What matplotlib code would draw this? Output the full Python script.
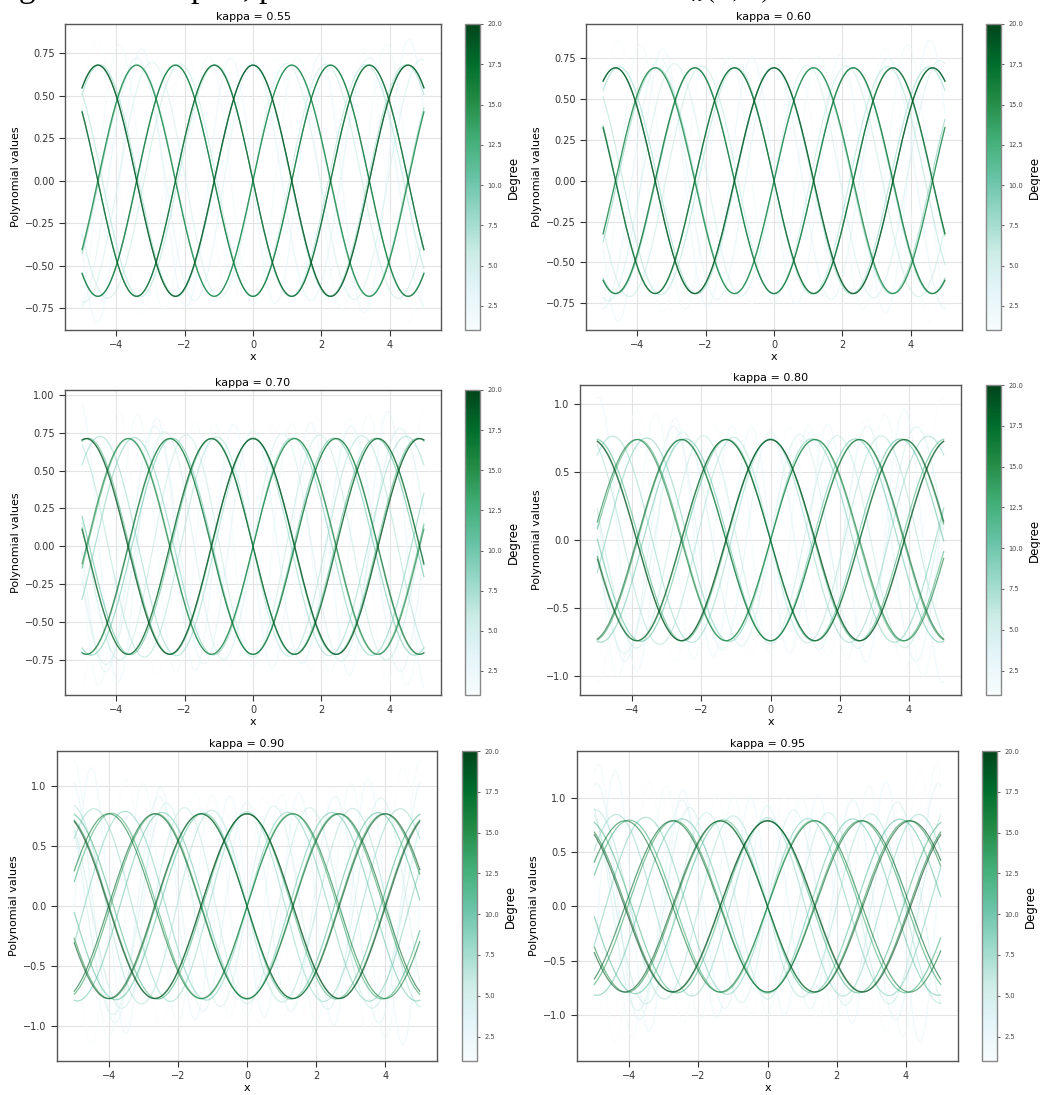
import numpy as np
import matplotlib
matplotlib.use("Agg")
import matplotlib.pyplot as plt
from matplotlib import cm, colors
from matplotlib.ticker import MultipleLocator

# values
kappas = [0.55, 0.60, 0.70, 0.80, 0.90, 0.95]
peak_values = [0.68, 0.69, 0.71, 0.74, 0.77, 0.79]      # crest height of the converged curves
periods = [4.54, 4.64, 4.88, 5.16, 5.36, 5.52]           # full period of the converged curves
light_periods = [2.6, 2.6, 2.25, 2.2, 2.0, 1.95]         # period of the palest curve
light_center = [0.72, 0.75, 0.80, 0.83, 0.92, 1.00]      # crest of the palest curve near x = 0
edge_peaks = [0.84, 0.87, 0.93, 1.03, 1.18, 1.30]        # crest of the palest curve near |x| = 5
settle = [0.45, 0.50, 0.60, 0.63, 0.66, 0.68]            # how slowly the degrees settle (per degree)
y_limits = [(-0.878, 0.922), (-0.913, 0.958), (-0.978, 1.03),
            (-1.14, 1.142), (-1.292, 1.295), (-1.429, 1.437)]
y_steps = [0.25, 0.25, 0.25, 0.5, 0.5, 0.5]
degrees = list(range(1, 21))

W, H = 1040, 1095
# pixel boxes (left, top, right, bottom) for each plot and its colorbar
ax_boxes = [(65, 24, 441, 330), (586, 24, 962, 330),
            (65, 390, 441, 695), (580, 385, 961, 695),
            (57, 751, 437, 1061), (577, 751, 958, 1061)]
cb_boxes = [(465, 24, 480, 330), (986, 24, 1001, 330),
            (465, 390, 480, 695), (986, 385, 1001, 695),
            (462, 751, 477, 1061), (982, 751, 997, 1061)]


def rect(b):
    l, t, r, bt = b
    return [l / W, 1 - bt / H, (r - l) / W, (bt - t) / H]


plt.rcParams.update({
    "font.family": "DejaVu Sans",
    "axes.edgecolor": "#555555",
    "axes.linewidth": 1.0,
    "xtick.direction": "out",
    "ytick.direction": "out",
    "xtick.major.size": 4,
    "ytick.major.size": 4,
    "xtick.labelsize": 7,
    "ytick.labelsize": 7,
    "xtick.color": "#333333",
    "ytick.color": "#333333",
    "mathtext.fontset": "stix",
})

fig = plt.figure(figsize=(W / 100, H / 100), dpi=100)
cmap = plt.get_cmap("BuGn")
norm = colors.Normalize(vmin=1, vmax=20)
x = np.linspace(-5, 5, 800)

for i, k in enumerate(kappas):
    ax = fig.add_axes(rect(ax_boxes[i]))
    A = peak_values[i]
    w = 2 * np.pi / periods[i]
    w_ratio = periods[i] / light_periods[i]
    c_ratio = light_center[i] / A
    e_ratio = edge_peaks[i] / light_center[i]
    for n in degrees:
        d = settle[i] ** (max(n, 3) - 3)
        wn = w * (1 + (w_ratio - 1) * d)
        env = (1 + (c_ratio - 1) * d) * (1 + (e_ratio - 1) * d * (x / 4.75) ** 2)
        y = A * env * np.cos(wn * x - n * np.pi / 2)
        ax.plot(x, y, color=cmap(norm(n)), lw=0.9, alpha=0.6)
    ax.set_xlim(-5.5, 5.5)
    ax.set_ylim(*y_limits[i])
    ax.yaxis.set_major_locator(MultipleLocator(y_steps[i]))
    ax.grid(True, color="#e3e3e3", lw=0.8)
    ax.set_axisbelow(True)
    ax.set_title(f"kappa = {k:.2f}", fontsize=8, pad=3)
    ax.set_xlabel("x", fontsize=8, labelpad=1)
    ax.set_ylabel("Polynomial values", fontsize=8, labelpad=3)

    cax = fig.add_axes(rect(cb_boxes[i]))
    sm = cm.ScalarMappable(norm=norm, cmap=cmap)
    cb = fig.colorbar(sm, cax=cax)
    cb.outline.set_edgecolor("#888888")
    cb.ax.tick_params(labelsize=4.8, length=2, width=0.6, colors="#444444")
    cb.set_label("Degree", fontsize=8.5, labelpad=3)

# line of page text above the figure, cut by the top edge as in the reference
fig.text(-20 / W, 1 + 3 / H,
         "Degree of each plot, per the rescaled basis at scale  $H_\\kappa(x;n)$",
         family="Liberation Serif", fontsize=24, va="baseline", ha="left")

fig.savefig("out.png", dpi=100)
